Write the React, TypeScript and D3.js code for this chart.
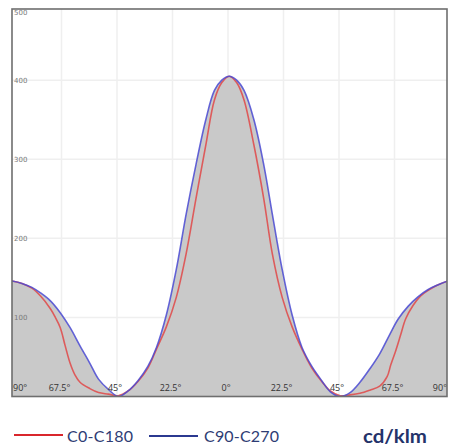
import React from "react";
import { area, curveCatmullRom, line, scaleLinear } from "d3";

// C90-C270 (blue) readings, angle in degrees -> cd/klm
const blueAngles = [-90, -87.5, -83.5, -79.5, -76, -72, -68, -64, -60, -56, -52.5, -48.5, -44.5, -40.5, -36.5, -32.5, -29, -25, -21, -17, -13, -9, -5.5, -2.5, 0.5, 3.5, 6.5, 10.5, 14.5, 18, 22, 26, 30, 34, 38, 41.5, 45.5, 49.5, 53.5, 57.5, 61.5, 65.5, 69, 73, 77, 81, 85, 89, 90];
const blueValues = [147, 146, 143, 138, 131, 121, 106, 87, 64, 42, 22, 9, 0, 7, 20, 38, 62, 103, 160, 230, 293, 350, 387, 400, 405, 400, 387, 350, 293, 230, 160, 103, 62, 38, 20, 6, 0, 5, 18, 35, 54, 78, 98, 114, 126, 135, 141, 146, 147];

// C0-C180 (red)
const redAngles = [-90, -87.5, -83.5, -79.5, -76, -72, -70, -68, -66, -64, -62, -60, -56, -52.5, -48.5, -44.5, -40.5, -36.5, -32.5, -29, -25, -21, -17, -13, -9, -5.5, -2.5, 0.5, 3.5, 6.5, 10.5, 14.5, 18, 22, 26, 30, 34, 38, 41.5, 45.5, 49.5, 53.5, 57.5, 61.5, 64.5, 66, 68, 70, 72, 75, 78, 81, 85, 89, 90];
const redValues = [147, 146, 143, 137, 127, 111, 100, 87, 64, 42, 27, 18, 10, 5, 3, 1, 7, 19, 36, 60, 88, 125, 180, 250, 318, 375, 397, 405, 397, 375, 318, 250, 180, 125, 88, 60, 36, 19, 7, 1, 2, 4, 8, 13, 25, 40, 58, 78, 98, 115, 127, 134, 141, 146, 147];

const yTicks = [100, 200, 300, 400, 500];
const xTicks = [-90, -67.5, -45, -22.5, 0, 22.5, 45, 67.5, 90];
const xTickLabels = ["90°", "67.5°", "45°", "22.5°", "0°", "22.5°", "45°", "67.5°", "90°"];
const legendLabels = ["C0-C180", "C90-C270"];
const unitLabel = "cd/klm";

const W = 451;
const H = 448;
const left = 12;
const right = 447;
const top = 9;
const bottom = 396.5;

const RED = "#e04848";
const BLUE = "#4a4ad2";

type Pt = { a: number; v: number };

export default function App() {
  const x = scaleLinear().domain([-90, 90]).range([6, 450]);
  const y = scaleLinear().domain([0, 490]).range([bottom, top]);

  const blue: Pt[] = blueAngles.map((a, i) => ({ a, v: blueValues[i] }));
  const red: Pt[] = redAngles.map((a, i) => ({ a, v: redValues[i] }));

  const curve = curveCatmullRom.alpha(0.5);
  const lineGen = line<Pt>()
    .x((d) => x(d.a))
    .y((d) => Math.min(y(d.v), bottom))
    .curve(curve);
  const areaGen = area<Pt>()
    .x((d) => x(d.a))
    .y0(y(0))
    .y1((d) => y(d.v))
    .curve(curve);

  return (
    <svg
      width={W}
      height={H}
      style={{ position: "absolute", left: 0, top: 0, background: "#fff" }}
    >
      <defs>
        <clipPath id="plot">
          <rect x={left} y={top} width={right - left} height={bottom - top} />
        </clipPath>
      </defs>

      {/* grid */}
      <g stroke="#efefef" strokeWidth={1.5}>
        {yTicks.slice(0, 4).map((t) => (
          <line key={t} x1={left} x2={right} y1={y(t)} y2={y(t)} />
        ))}
        {xTicks.slice(1, -1).map((t, i) => (
          <line key={i} x1={x(t)} x2={x(t)} y1={top} y2={bottom} />
        ))}
      </g>

      <g clipPath="url(#plot)">
        <path d={areaGen(blue) ?? ""} fill="#c9c9c9" />
        <path d={areaGen(red) ?? ""} fill="#c9c9c9" />
        <path d={lineGen(red) ?? ""} fill="none" stroke={RED} strokeWidth={1.6} strokeOpacity={0.85} />
        <path d={lineGen(blue) ?? ""} fill="none" stroke={BLUE} strokeWidth={1.6} strokeOpacity={0.85} />
      </g>

      {/* y labels */}
      <g fontFamily="DejaVu Sans" fontSize={7} fill="#7a7a7a">
        {yTicks.map((t) => (
          <text key={t} x={14} y={Math.max(y(t), 13)} dy="0.35em">
            {t}
          </text>
        ))}
      </g>

      {/* x labels */}
      <g fontFamily="Open Sans" fontSize={9} fill="#333">
        {xTicks.map((t, i) => {
          const anchor = i === 0 ? "start" : i === xTicks.length - 1 ? "end" : "middle";
          const px = i === 0 ? left + 1 : i === xTicks.length - 1 ? right : x(t) - 2;
          return (
            <text key={i} x={px} y={391} textAnchor={anchor}>
              {xTickLabels[i]}
            </text>
          );
        })}
      </g>

      {/* frame */}
      <rect
        x={left}
        y={top}
        width={right - left}
        height={bottom - top}
        fill="none"
        stroke="#6e6e6e"
        strokeWidth={1.6}
      />

      {/* legend */}
      <line x1={14} x2={63} y1={435} y2={435} stroke="#d9262c" strokeWidth={2.2} />
      <text x={67} y={441.5} fontFamily="Lato" fontSize={16} fill="#2e3c74" textLength={66} lengthAdjust="spacing">
        {legendLabels[0]}
      </text>
      <line x1={149} x2={198} y1={436} y2={436} stroke="#2b3990" strokeWidth={2.2} />
      <text x={204} y={442} fontFamily="Lato" fontSize={16} fill="#2e3c74" textLength={75} lengthAdjust="spacing">
        {legendLabels[1]}
      </text>
      <text x={363} y={442.5} fontFamily="Lato" fontWeight="bold" fontSize={19} fill="#24336a" textLength={64} lengthAdjust="spacingAndGlyphs">
        {unitLabel}
      </text>
    </svg>
  );
}
